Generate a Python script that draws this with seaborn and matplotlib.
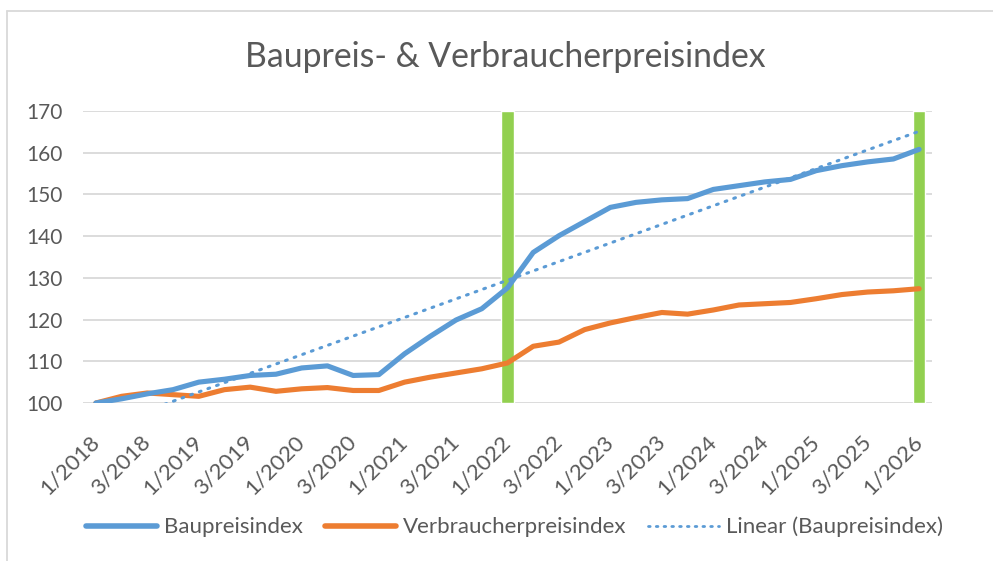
import numpy as np
import pandas as pd
import matplotlib.pyplot as plt
from matplotlib.lines import Line2D
import seaborn as sns

# quarterly values 1/2018 .. 1/2026
quarters = [f"{q}/{y}" for y in range(2018, 2026) for q in range(1, 5)] + ["1/2026"]
baupreis = [100.0, 101.0, 102.2, 103.2, 105.0, 105.7, 106.6, 106.9, 108.4, 108.9,
            106.6, 106.8, 111.8, 116.0, 119.9, 122.6, 127.6, 136.1, 140.1, 143.5,
            146.9, 148.1, 148.7, 149.0, 151.2, 152.1, 153.0, 153.6, 155.7, 156.9,
            157.8, 158.5, 160.8]
verbraucher = [100.0, 101.6, 102.4, 102.0, 101.6, 103.2, 103.8, 102.8, 103.4, 103.7,
               103.0, 103.0, 105.0, 106.2, 107.2, 108.2, 109.6, 113.6, 114.6, 117.6,
               119.2, 120.5, 121.7, 121.3, 122.3, 123.5, 123.8, 124.1, 125.0, 126.0,
               126.6, 126.9, 127.4]
marked = ["1/2022", "1/2026"]

BLUE = "#5B9BD5"
ORANGE = "#ED7D31"
GREEN = "#92D050"
GRID = "#D9D9D9"
TEXT = "#595959"

sns.set_style("white")
plt.rcParams['font.family'] = ['Lato', 'DejaVu Sans']

df = pd.DataFrame({"idx": np.arange(len(quarters)), "Quartal": quarters,
                   "Baupreisindex": baupreis, "Verbraucherpreisindex": verbraucher})
slope, icpt = np.polyfit(df["idx"], df["Baupreisindex"], 1)
df["Linear"] = icpt + slope * df["idx"]

fig = plt.figure(figsize=(9.93, 5.61), dpi=100)
ax = fig.add_axes([83 / 993, 1 - 403 / 561, (932 - 83) / 993, (403 - 111) / 561])

# green marker columns
mk = df[df["Quartal"].isin(marked)]
ax.bar(mk["idx"], 70, bottom=100, width=0.47, color=GREEN, zorder=2)

sns.lineplot(data=df, x="idx", y="Baupreisindex", ax=ax, color=BLUE, lw=3.7,
             solid_capstyle="round", zorder=4)
sns.lineplot(data=df, x="idx", y="Verbraucherpreisindex", ax=ax, color=ORANGE, lw=3.7,
             solid_capstyle="round", zorder=3)
sns.lineplot(data=df, x="idx", y="Linear", ax=ax, color=BLUE, lw=2.2,
             linestyle=(0, (0.6, 2.4)), dash_capstyle="round", zorder=5)

ax.set_xlim(-0.5, len(quarters) - 0.5)
ax.set_ylim(100, 170)
ax.set_yticks(range(100, 171, 10))
ax.set_xticks(df["idx"][::2])
ax.set_xticklabels(df["Quartal"][::2], rotation=45, ha="right", va="center",
                   rotation_mode="anchor")
ax.tick_params(axis="both", length=0, labelcolor=TEXT)
ax.tick_params(axis="x", pad=26, labelsize=16)
ax.tick_params(axis="y", pad=15, labelsize=15)
ax.set_xlabel("")
ax.set_ylabel("")
ax.yaxis.grid(True, color=GRID, lw=1.3)
ax.set_axisbelow(True)
for s in ax.spines.values():
    s.set_visible(False)

fig.text(0.509, 1 - 57 / 561, "Baupreis- & Verbraucherpreisindex", ha="center", va="center",
         fontsize=24.3, color=TEXT)

handles = [Line2D([], [], color=BLUE, lw=4, solid_capstyle="round"),
           Line2D([], [], color=ORANGE, lw=4, solid_capstyle="round"),
           Line2D([], [], color=BLUE, lw=2, linestyle=(0, (0.6, 2.2)), dash_capstyle="round")]
fig.legend(handles, ["Baupreisindex", "Verbraucherpreisindex", "Linear (Baupreisindex)"],
           loc="center", bbox_to_anchor=(0.518, 1 - 527 / 561), ncol=3, frameon=False,
           fontsize=16, labelcolor=TEXT, handlelength=3.2, handletextpad=0.3,
           columnspacing=1.0)

# chart border (left and top)
fig.add_artist(Line2D([7 / 993, 7 / 993], [0, 1 - 11 / 561], color=GRID, lw=1.3))
fig.add_artist(Line2D([7 / 993, 1], [1 - 11 / 561, 1 - 11 / 561], color=GRID, lw=1.3))

fig.savefig("out.png", dpi=100)
